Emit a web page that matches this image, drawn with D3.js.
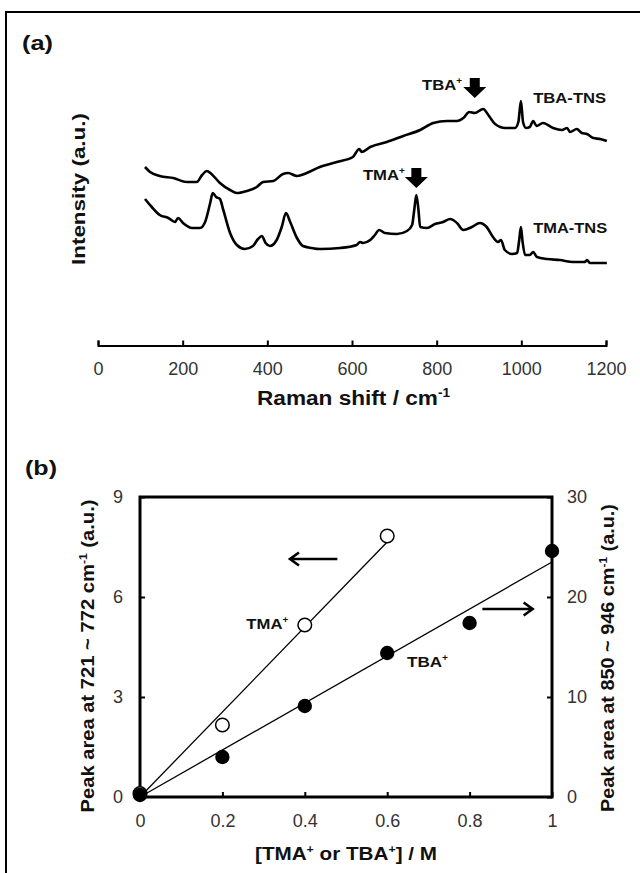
<!DOCTYPE html>
<html>
<head>
<meta charset="utf-8">
<script src="https://cdn.jsdelivr.net/npm/d3@7"></script>
<style>
  body { margin: 0; background: #fff; }
  svg { display: block; font-family: "Liberation Sans", Arial, sans-serif; }
  .tick text { fill: #333; font-size: 18px; }
  .lbl { font-weight: bold; fill: #111; }
</style>
</head>
<body>
<svg id="chart" width="640" height="873"></svg>
<script>
// ---------------- data: panel (a) Raman spectra, [shift cm-1, intensity a.u.]
var tbaSpectrum = [[111,133],[123,128],[146,124],[178,122],[210,118],[233,118],[246,125],[257,129],[268,126],
  [288,117],[312,110],[328,107],[351,109],[375,113],[390,118],[414,119],[437,126],[449,127],[470,124],[493,127],
  [524,133],[564,138],[602,143],[617,151],[623,148],[643,153],[682,158],[721,164],[761,170],[792,177],[824,179],
  [848,179],[863,182],[877,188],[890,187],[910,191],[922,185],[938,176],[962,172],[985,172],[993,178],[999,199],
  [1004,178],[1011,172],[1020,173],[1028,179],[1036,174],[1051,177],[1075,172],[1096,170],[1108,172],[1115,168],
  [1131,171],[1143,167],[1155,166],[1170,162],[1186,161],[1202,159]];
var tmaSpectrum = [[111,101],[127,93],[146,85],[166,82],[182,78],[189,82],[201,77],[222,72],[241,72],[253,78],
  [265,97],[271,107],[279,103],[288,101],[296,90],[312,67],[328,55],[347,51],[366,54],[378,61],[387,64],[396,57],
  [406,54],[422,60],[434,73],[444,87],[454,78],[470,62],[484,54],[505,52],[524,51],[572,52],[611,55],[619,58],
  [626,57],[643,60],[654,65],[664,70],[678,67],[706,66],[730,69],[742,75],[747,90],[752,105],[757,90],[761,73],
  [777,72],[796,76],[815,78],[832,81],[848,77],[863,70],[883,73],[902,77],[918,73],[933,63],[945,58],[952,60],
  [961,50],[978,46],[990,47],[995,60],[999,73],[1003,58],[1009,45],[1020,45],[1028,48],[1037,43],[1061,41],
  [1091,40],[1122,38],[1150,38],[1155,40],[1162,37],[1202,37]];
var ramanTicks = [0, 200, 400, 600, 800, 1000, 1200];

// ---------------- data: panel (b) peak areas vs concentration
var conc = [0, 0.2, 0.4, 0.6, 0.8, 1.0];
var tmaArea = [0.1, 2.16, 5.16, 7.83];           // left axis, 721~772 cm-1
var tbaArea = [0.2, 4.0, 9.1, 14.4, 17.4, 24.6]; // right axis, 850~946 cm-1
var tmaFit = [[0, 0], [0.6, 7.65]];
var tbaFit = [[0, 0], [1.0, 23.5]];
var concTicks = [0, 0.2, 0.4, 0.6, 0.8, 1];
var leftTicks = [0, 3, 6, 9];
var rightTicks = [0, 10, 20, 30];

var svg = d3.select('#chart');

// outer frame (only top and left edges are in view)
svg.append('path').attr('d', 'M6,873V12H640').attr('fill', 'none').attr('stroke', '#000').attr('stroke-width', 2);

function label(g, x, y, size, len, rot, anchor) {
	var t = g.append('text').attr('class', 'lbl').attr('font-size', size)
		.attr('text-anchor', anchor || 'middle');
	if (rot) t.attr('transform', 'translate(' + x + ',' + y + ') rotate(' + rot + ')');
	else t.attr('x', x).attr('y', y);
	if (len) t.attr('textLength', len).attr('lengthAdjust', 'spacingAndGlyphs');
	t.datum(size);
	return t;
}
// pieces: array of [text, isSuperscript]
function rich(t, pieces) {
	var size = t.datum(), up = 0;
	pieces.forEach(function (p) {
		var s = t.append('tspan').text(p[0]);
		var want = p[1] ? -size * 0.38 : 0;
		s.attr('dy', want - up);
		up = want;
		if (p[1]) s.attr('font-size', size * 0.6);
	});
	return t;
}

/* ---------------- panel (a) ---------------- */
var xA = d3.scaleLinear().domain([0, 1200]).range([98, 606]);
var yA = d3.scaleLinear().domain([0, 300]).range([300, 0]);
var gA = svg.append('g');

label(gA, 22, 50, 21, 31, 0, 'start').text('(a)');

var axA = gA.append('g').attr('transform', 'translate(0,' + 345.5 + ')')
	.call(d3.axisBottom(xA).tickValues(ramanTicks).tickFormat(d3.format('d'))
		.tickSizeInner(-5).tickSizeOuter(-5).tickPadding(17));
axA.selectAll('path, line').attr('stroke', '#000').attr('stroke-width', 2);
axA.selectAll('text').attr('font-family', null);

var specLine = d3.line().x(function (d) { return xA(d[0]); }).y(function (d) { return yA(d[1]); })
	.curve(d3.curveMonotoneX);
gA.selectAll('.spec').data([tbaSpectrum, tmaSpectrum]).enter().append('path')
	.attr('class', 'spec').attr('d', specLine)
	.attr('fill', 'none').attr('stroke', '#000').attr('stroke-width', 2.6).attr('stroke-linejoin', 'round');

label(gA, 85, 189, 19, 152, -90).text('Intensity (a.u.)');
rich(label(gA, 353.5, 405, 20, 193), [['Raman shift / cm'], ['-1', 1]]);

// block arrows marking the cation bands
var blockArrows = [{raman: 890, tip: 202}, {raman: 752, tip: 112}];
gA.selectAll('.barrow').data(blockArrows).enter().append('path').attr('class', 'barrow')
	.attr('d', function (d) {
		var x = xA(d.raman), y = yA(d.tip);
		return 'M' + (x - 5) + ',' + (y - 20) + 'H' + (x + 5) + 'V' + (y - 11) + 'H' + (x + 11.5) +
			'L' + x + ',' + y + 'L' + (x - 11.5) + ',' + (y - 11) + 'H' + (x - 5) + 'Z';
	}).attr('fill', '#000');

rich(label(gA, xA(860), yA(210), 15, 40, 0, 'end'), [['TBA'], ['+', 1]]);
rich(label(gA, xA(725), yA(120), 15, 42, 0, 'end'), [['TMA'], ['+', 1]]);
label(gA, xA(1028), yA(197), 15.5, 73, 0, 'start').text('TBA-TNS');
label(gA, xA(1028), yA(67), 15.5, 74, 0, 'start').text('TMA-TNS');

/* ---------------- panel (b) ---------------- */
var xB = d3.scaleLinear().domain([0, 1]).range([140, 552]);
var yL = d3.scaleLinear().domain([0, 9]).range([797, 497]);
var yR = d3.scaleLinear().domain([0, 30]).range([797, 497]);
var gB = svg.append('g');

label(gB, 25, 475, 21, 32, 0, 'start').text('(b)');

var axB = gB.append('g').attr('transform', 'translate(0,797)')
	.call(d3.axisBottom(xB).tickValues(concTicks).tickFormat(d3.format('')).tickSize(-5).tickPadding(17));
var axL = gB.append('g').attr('transform', 'translate(140,0)')
	.call(d3.axisLeft(yL).tickValues(leftTicks).tickSize(-5).tickPadding(17));
var axR = gB.append('g').attr('transform', 'translate(552,0)')
	.call(d3.axisRight(yR).tickValues(rightTicks).tickSize(-5).tickPadding(15));
[axB, axL, axR].forEach(function (a) {
	a.select('.domain').remove();
	a.selectAll('line').attr('stroke', '#000').attr('stroke-width', 2);
	a.selectAll('text').attr('font-family', null);
});
gB.append('rect').attr('x', xB(0)).attr('y', yL(9)).attr('width', xB(1) - xB(0)).attr('height', yL(0) - yL(9))
	.attr('fill', 'none').attr('stroke', '#000').attr('stroke-width', 3);

// fit lines
var fitL = d3.line().x(function (d) { return xB(d[0]); }).y(function (d) { return yL(d[1]); });
var fitR = d3.line().x(function (d) { return xB(d[0]); }).y(function (d) { return yR(d[1]); });
gB.append('path').attr('d', fitL(tmaFit)).attr('stroke', '#000').attr('stroke-width', 1.3).attr('fill', 'none');
gB.append('path').attr('d', fitR(tbaFit)).attr('stroke', '#000').attr('stroke-width', 1.3).attr('fill', 'none');

// markers
gB.selectAll('.tma').data(tmaArea).enter().append('circle').attr('class', 'tma')
	.attr('cx', function (d, i) { return xB(conc[i]); }).attr('cy', function (d) { return yL(d); })
	.attr('r', 6.8).attr('fill', '#fff').attr('stroke', '#000').attr('stroke-width', 1.5);
gB.selectAll('.tba').data(tbaArea).enter().append('circle').attr('class', 'tba')
	.attr('cx', function (d, i) { return xB(conc[i]); }).attr('cy', function (d) { return yR(d); })
	.attr('r', 7.2).attr('fill', '#000');

rich(label(gB, xB(0.36), yL(5.04), 15, 42, 0, 'end'), [['TMA'], ['+', 1]]);
rich(label(gB, xB(0.648), yR(13.0), 15, 41, 0, 'start'), [['TBA'], ['+', 1]]);

// axis-pointer arrows
var pointers = [
	{x0: xB(0.479), x1: xB(0.364), y: yL(7.14)},
	{x0: xB(0.831), x1: xB(0.953), y: yR(18.8)}
];
gB.selectAll('.ptr').data(pointers).enter().append('path').attr('class', 'ptr')
	.attr('d', function (d) {
		var dir = d.x1 > d.x0 ? -1 : 1;
		return 'M' + d.x0 + ',' + d.y + 'H' + d.x1 +
			'M' + (d.x1 + dir * 9) + ',' + (d.y - 6.5) + 'L' + d.x1 + ',' + d.y + 'L' + (d.x1 + dir * 9) + ',' + (d.y + 6.5);
	}).attr('fill', 'none').attr('stroke', '#000').attr('stroke-width', 2.6);

rich(label(gB, 94, 656, 18.5, 313, -90), [['Peak area at 721 ~ 772 cm'], ['-1', 1], [' (a.u.)']]);
rich(label(gB, 614, 658, 18.5, 308, -90), [['Peak area at 850 ~ 946 cm'], ['-1', 1], [' (a.u.)']]);
rich(label(gB, 346, 860, 19, 182), [['[TMA'], ['+', 1], [' or TBA'], ['+', 1], ['] / M']]);
</script>
</body>
</html>
